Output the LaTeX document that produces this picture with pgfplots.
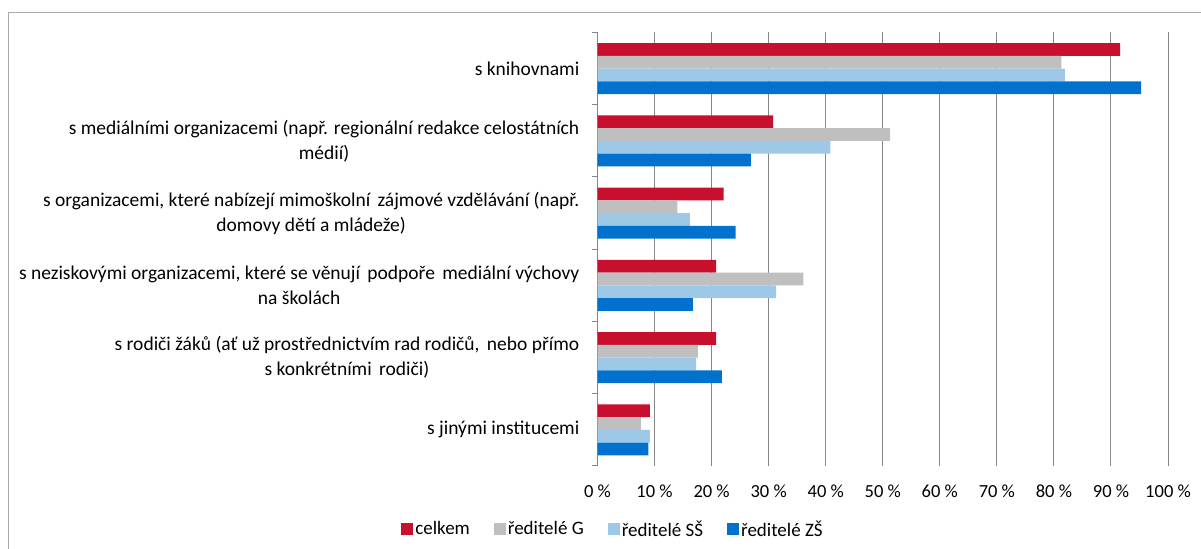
\documentclass[border=0pt]{standalone}
\usepackage{pgfplots}
\pgfplotsset{compat=1.18}
\usepackage{fontspec}
\setmainfont{Carlito}
\definecolor{cR}{RGB}{200,16,46}
\definecolor{cG}{RGB}{191,191,191}
\definecolor{cL}{RGB}{157,200,232}
\definecolor{cB}{RGB}{0,114,206}
\definecolor{gridC}{RGB}{134,134,134}
\definecolor{frameC}{RGB}{170,170,170}
\newcommand\fs{\fontsize{19.5bp}{25bp}\selectfont}
\newcommand\fst{\fontsize{18.5bp}{22bp}\selectfont}
\newcommand\fsl{\fontsize{19bp}{22bp}\selectfont}
\newcommand\xs{\hspace{3bp}}
\begin{document}
\begin{tikzpicture}[x=1bp,y=1bp]
\path[use as bounding box] (0,0) rectangle (1201,549);
\draw[color=frameC, line width=1.2bp] (8.5,-5) -- (8.5,536.5) -- (1210,536.5);
\begin{axis}[
  at={(597.5bp,83bp)}, anchor=south west,
  scale only axis, width=570.5bp, height=433.5bp,
  xmin=0, xmax=100, ymin=-0.5, ymax=5.5, y dir=reverse,
  xbar=0pt, bar width=12.8bp,
  axis line style={draw=none},
  xmajorgrids, grid style={gridC, line width=1bp},
  xtick={0,10,20,30,40,50,60,70,80,90,100},
  xticklabels={0 \%,10 \%,20 \%,30 \%,40 \%,50 \%,60 \%,70 \%,80 \%,90 \%,100 \%},
  xtick pos=bottom, ytick pos=left,
  tick align=outside,
  major tick length=0pt,
  minor tick length=6bp,
  minor ytick={-0.5,0.5,1.5,2.5,3.5,4.5,5.5},
  minor tick style={gridC, line width=1bp},
  ytick={0,1,2,3,4,5},
  yticklabels={
    {s knihovnami},
    {s mediálními organizacemi (např. regionální redakce celostátních\\médií)},
    {s organizacemi, které nabízejí mimoškolní\xs{} zájmové vzdělávání (např.\\domovy dětí a mládeže)},
    {s neziskovými organizacemi, které se věnují\xs{} podpoře\xs{} mediální výchovy\\na školách},
    {s rodiči žáků (ať už prostřednictvím rad rodičů,\xs{} nebo přímo\\s konkrétními\xs{} rodiči)},
    {s jinými institucemi}},
  yticklabel style={font=\fs, align=center, anchor=east, inner sep=0pt, xshift=-18bp},
  xticklabel style={font=\fst, anchor=north, inner sep=0pt, yshift=-19bp},
  legend columns=4,
  legend style={draw=none, fill=none, font=\fsl,
    at={(0.0272,-0.1453)}, anchor=center,
    nodes={inner xsep=2bp, inner ysep=0pt},
    /tikz/every even column/.append style={column sep=22bp}},
]
\addplot[fill=cR, draw=none, bar shift=19.2bp, legend image code/.code={\fill[cR] (0bp,-6bp) rectangle (12bp,6bp);}]
  coordinates {(91.6,0) (30.8,1) (22.1,2) (20.8,3) (20.8,4) (9.2,5)};
\addplot[fill=cG, draw=none, bar shift=6.4bp, legend image code/.code={\fill[cG] (0bp,-6bp) rectangle (12bp,6bp);}]
  coordinates {(81.3,0) (51.3,1) (14.0,2) (36.1,3) (17.6,4) (7.6,5)};
\addplot[fill=cL, draw=none, bar shift=-6.4bp, legend image code/.code={\fill[cL] (0bp,-6bp) rectangle (12bp,6bp);}]
  coordinates {(81.9,0) (40.8,1) (16.2,2) (31.3,3) (17.3,4) (9.2,5)};
\addplot[fill=cB, draw=none, bar shift=-19.2bp, legend image code/.code={\fill[cB] (0bp,-6bp) rectangle (12bp,6bp);}]
  coordinates {(95.3,0) (26.9,1) (24.2,2) (16.7,3) (21.8,4) (8.9,5)};
\legend{celkem, ředitelé G, ředitelé SŠ, ředitelé ZŠ}
\end{axis}
\end{tikzpicture}
\end{document}
